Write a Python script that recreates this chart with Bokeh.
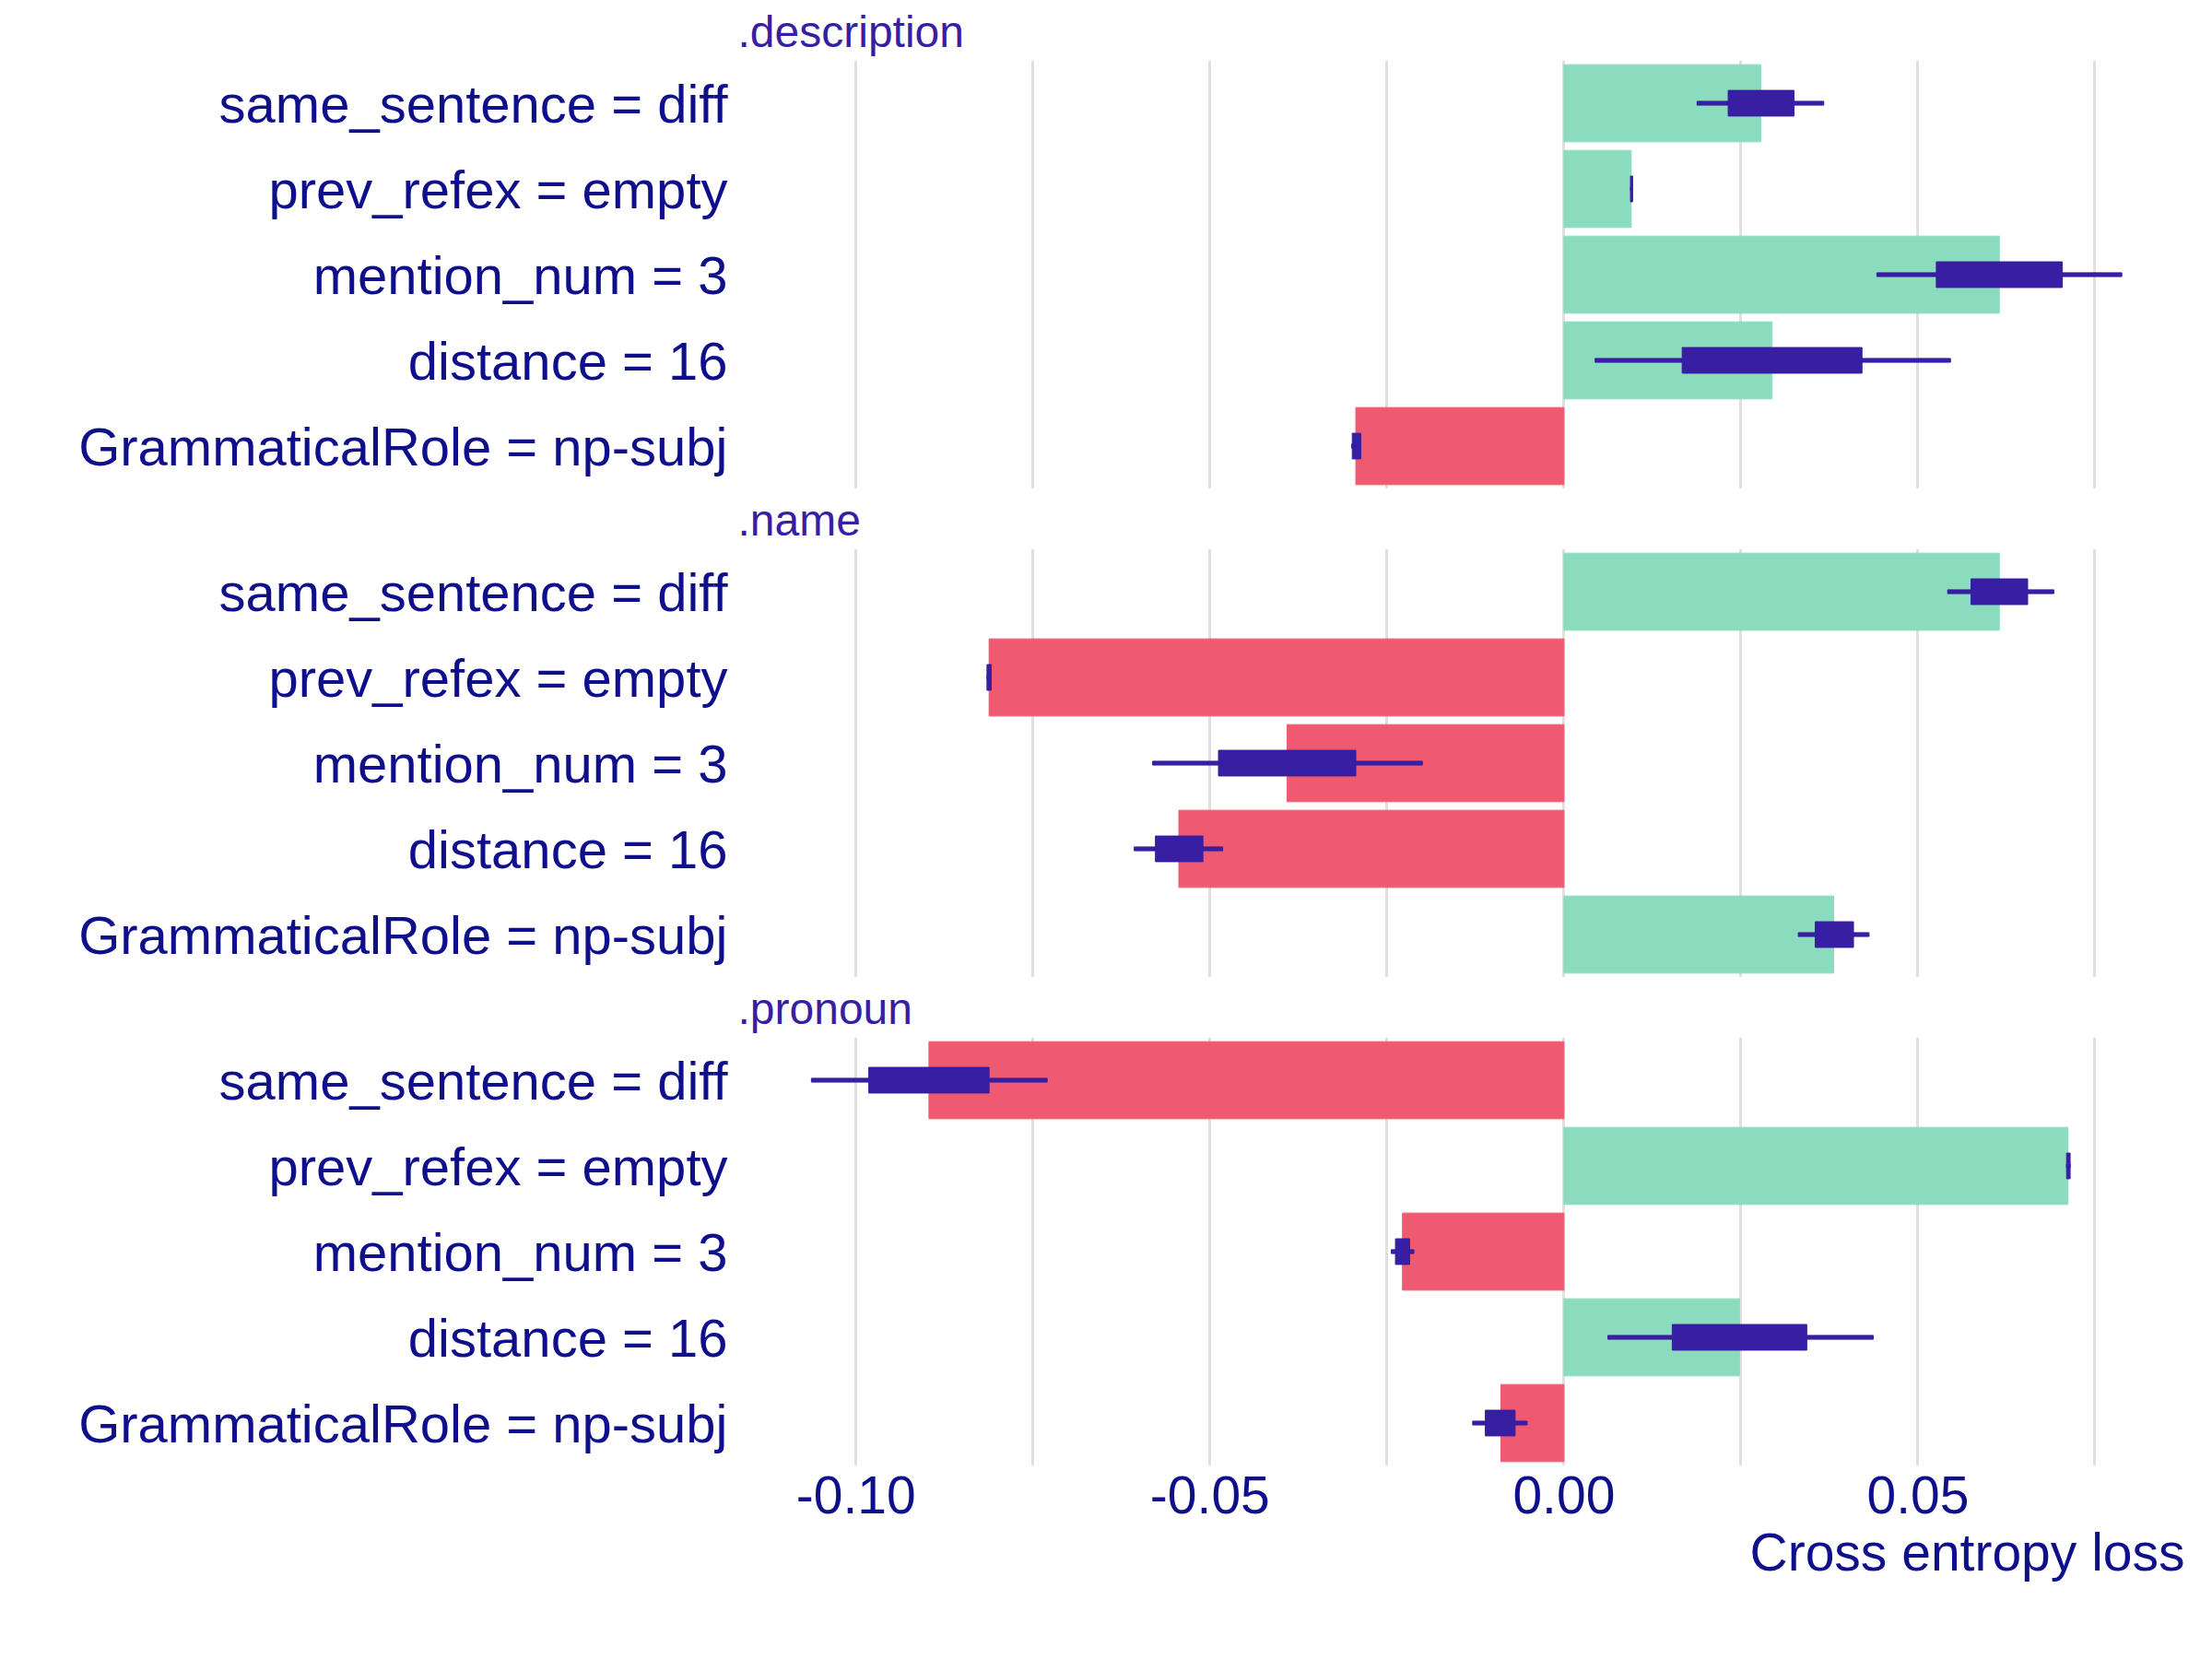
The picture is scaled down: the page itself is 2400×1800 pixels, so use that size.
from bokeh.plotting import figure
from bokeh.layouts import column
from bokeh.models import ColumnDataSource, FixedTicker, NumeralTickFormatter, Range1d, Title
from bokeh.embed import file_html
from bokeh.resources import INLINE

features = ["same_sentence = diff", "prev_refex = empty", "mention_num = 3",
            "distance = 16", "GrammaticalRole = np-subj"]
panels = [".description", ".name", ".pronoun"]

# contribution (bar) and boxplot stats per panel: q0, q1, q3, q4
contrib = {
    ".description": [0.0278, 0.0095, 0.0615, 0.0294, -0.0294],
    ".name": [0.0615, -0.0812, -0.0391, -0.0544, 0.0381],
    ".pronoun": [-0.0897, 0.0712, -0.0228, 0.0248, -0.0089],
}
wlo = {
    ".description": [0.0188, 0.0094, 0.0442, 0.0044, -0.0300],
    ".name": [0.0542, -0.0815, -0.0581, -0.0607, 0.0331],
    ".pronoun": [-0.1063, 0.0710, -0.0244, 0.0062, -0.0129],
}
qlo = {
    ".description": [0.0232, 0.0094, 0.0526, 0.0167, -0.0299],
    ".name": [0.0575, -0.0815, -0.0488, -0.0577, 0.0355],
    ".pronoun": [-0.0982, 0.0710, -0.0238, 0.0153, -0.0111],
}
qhi = {
    ".description": [0.0325, 0.0097, 0.0704, 0.0421, -0.0287],
    ".name": [0.0655, -0.0809, -0.0294, -0.0510, 0.0409],
    ".pronoun": [-0.0812, 0.0715, -0.0218, 0.0343, -0.0069],
}
whi = {
    ".description": [0.0367, 0.0097, 0.0788, 0.0546, -0.0287],
    ".name": [0.0692, -0.0809, -0.0200, -0.0482, 0.0431],
    ".pronoun": [-0.0730, 0.0715, -0.0212, 0.0437, -0.0052],
}

GREEN = "#8bdcbe"
RED = "#f05a71"
BOX = "#371ea3"
LABEL = "#0f0f8c"

x_range = Range1d(-0.1167, 0.0877)
figs = []
for i, name in enumerate(panels):
    last = i == len(panels) - 1
    vals = contrib[name]
    src = ColumnDataSource(dict(
        y=features, left=[min(0, v) for v in vals], right=[max(0, v) for v in vals],
        color=[GREEN if v > 0 else RED for v in vals],
        wlo=wlo[name], whi=whi[name], qlo=qlo[name], qhi=qhi[name],
    ))
    p = figure(y_range=list(reversed(features)), x_range=x_range,
               frame_width=1570, frame_height=465,
               height=465 + 78 + (150 if last else 0),
               min_border_left=800, min_border_right=10, min_border_top=0,
               min_border_bottom=150 if last else 0,
               output_backend="svg", toolbar_location=None)
    p.title.text = name
    p.title.text_font = "Liberation Sans"
    p.title.text_font_size = "48px"
    p.title.text_font_style = "normal"
    p.title.text_color = BOX
    p.outline_line_color = None

    p.hbar(y="y", left="left", right="right", height=0.9, color="color", source=src)
    p.hbar(y="y", left="wlo", right="whi", height=0.045, color=BOX, source=src)
    p.hbar(y="y", left="qlo", right="qhi", height=0.3, color=BOX, source=src)

    p.ygrid.grid_line_color = None
    p.xgrid.ticker = FixedTicker(ticks=[-0.1, -0.075, -0.05, -0.025, 0, 0.025, 0.05, 0.075])
    p.xgrid.grid_line_color = "#e0e0e0"
    p.xgrid.grid_line_width = 3

    p.yaxis.axis_line_color = None
    p.yaxis.major_tick_line_color = None
    p.yaxis.minor_tick_line_color = None
    p.yaxis.major_label_text_font = "Liberation Sans"
    p.yaxis.major_label_text_font_size = "58px"
    p.yaxis.major_label_text_color = LABEL

    if last:
        p.xaxis.ticker = FixedTicker(ticks=[-0.1, -0.05, 0, 0.05])
        p.xaxis.formatter = NumeralTickFormatter(format="0.00")
        p.xaxis.axis_line_color = None
        p.xaxis.major_tick_line_color = None
        p.xaxis.minor_tick_line_color = None
        p.xaxis.major_label_text_font = "Liberation Sans"
        p.xaxis.major_label_text_font_size = "57px"
        p.xaxis.major_label_text_color = LABEL
        p.add_layout(Title(text="Cross entropy loss", align="right",
                           text_font="Liberation Sans", text_font_size="57px",
                           text_font_style="normal", text_color=LABEL), "below")
    else:
        p.xaxis.visible = False
    figs.append(p)

layout = column(*figs, spacing=0)
open("out.html", "w").write(file_html(layout, INLINE))
